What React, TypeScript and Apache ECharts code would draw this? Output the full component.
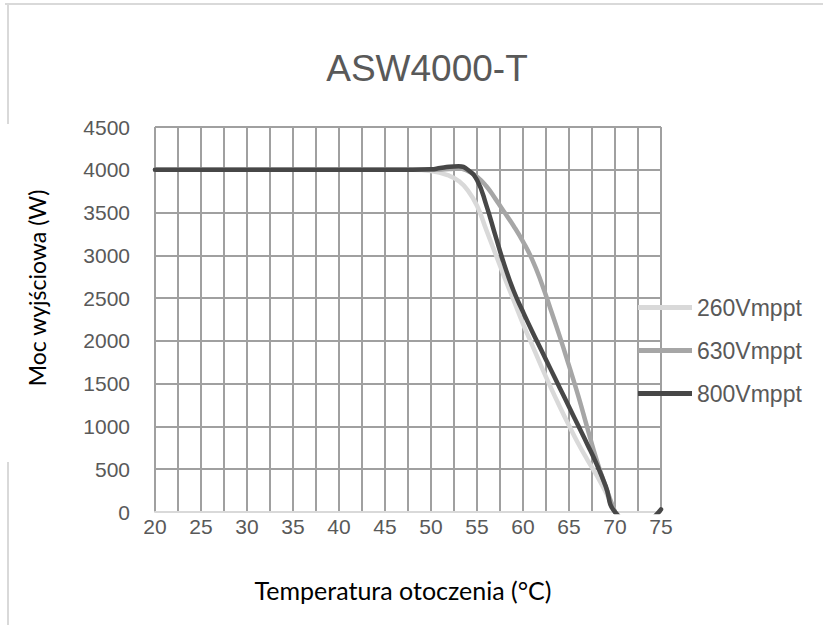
import React, { useEffect, useRef } from "react";
import * as echarts from "echarts";

const titleText = "ASW4000-T";
const xName = "Temperatura otoczenia (°C)";
const yName = "Moc wyjściowa (W)";
const seriesNames = ["260Vmppt", "630Vmppt", "800Vmppt"];
const seriesColors = ["#d9d9d9", "#a6a6a6", "#474747"];

const t260 = [20, 45, 48, 50, 52, 53, 54, 55, 56, 57, 58, 59, 60, 61, 62, 63, 64, 65, 66, 67, 68, 69, 70];
const p260 = [4000, 4000, 4000, 3985, 3930, 3870, 3760, 3580, 3300, 3020, 2740, 2470, 2200, 1950, 1700, 1460, 1230, 1010, 800, 610, 430, 230, 0];

const t630 = [20, 45, 50, 52, 53, 54, 55, 56, 57, 58, 59, 60, 61, 62, 63, 64, 65, 66, 67, 68, 69, 70];
const p630 = [4000, 4000, 4000, 4010, 4015, 3985, 3920, 3810, 3660, 3500, 3340, 3160, 2950, 2680, 2370, 2050, 1710, 1360, 980, 610, 290, 0];

const t800 = [20, 45, 48, 50, 51, 52, 53, 54, 55, 56, 57, 58, 59, 60, 61, 62, 63, 64, 65, 66, 67, 68, 69, 70, 72.5, 75];
const p800 = [4000, 4000, 4000, 4005, 4020, 4035, 4040, 4000, 3880, 3590, 3230, 2880, 2580, 2340, 2110, 1890, 1670, 1450, 1230, 1010, 790, 560, 300, 0, -150, 30];

const pairs = (t: number[], p: number[]) => t.map((v, i) => [v, p[i]]);

export default function App() {
  const ref = useRef<HTMLDivElement>(null);
  useEffect(() => {
    if (!ref.current) return;
    const chart = echarts.init(ref.current, undefined, { renderer: "svg" });
    const sans = "'Liberation Sans', Arial, sans-serif";
    const human = "Lato, 'Open Sans', sans-serif";
    const data = [pairs(t260, p260), pairs(t630, p630), pairs(t800, p800)];
    const gridLine = { color: "#a0a0a0", width: 2 };
    chart.setOption({
      animation: false,
      backgroundColor: "#ffffff",
      title: {
        text: titleText,
        left: 422,
        top: 45,
        textAlign: "center",
        textStyle: { fontFamily: sans, fontSize: 37, fontWeight: "normal", color: "#595959" },
      },
      grid: { left: 155, top: 127, right: 162, bottom: 113, containLabel: false },
      legend: {
        orient: "vertical",
        left: 638,
        top: 296,
        padding: 0,
        itemWidth: 54,
        itemHeight: 5,
        itemGap: 20,
        icon: "rect",
        data: seriesNames,
        textStyle: { fontFamily: sans, fontSize: 23, color: "#595959", lineHeight: 23 },
      },
      xAxis: {
        type: "value",
        min: 20,
        max: 75,
        interval: 5,
        axisLine: { show: true, lineStyle: { color: "#d9d9d9", width: 2 } },
        axisTick: { show: false },
        axisLabel: { fontFamily: sans, fontSize: 21, color: "#595959", margin: 4 },
        splitLine: { show: true, lineStyle: gridLine },
        minorTick: { show: false, splitNumber: 2 },
        minorSplitLine: { show: true, lineStyle: gridLine },
      },
      yAxis: {
        type: "value",
        min: 0,
        max: 4500,
        interval: 500,
        axisLine: { show: false },
        axisTick: { show: false },
        axisLabel: {
          fontFamily: sans,
          fontSize: 21,
          color: "#595959",
          margin: 25,
          formatter: (v: number) => String(v),
        },
        splitLine: { show: true, lineStyle: gridLine },
      },
      graphic: [
        { type: "line", shape: { x1: 5, y1: 4, x2: 823, y2: 4 }, style: { stroke: "#d9d9d9", lineWidth: 2 } },
        { type: "line", shape: { x1: 8, y1: 4, x2: 8, y2: 124 }, style: { stroke: "#d9d9d9", lineWidth: 2 } },
        { type: "line", shape: { x1: 8, y1: 462, x2: 8, y2: 625 }, style: { stroke: "#d9d9d9", lineWidth: 2 } },
        {
          type: "text",
          x: 403,
          y: 590,
          style: {
            text: xName,
            fontFamily: human,
            fontSize: 25,
            fill: "#000000",
            align: "center",
            verticalAlign: "middle",
          },
        },
        {
          type: "text",
          x: 37,
          y: 288,
          rotation: Math.PI / 2,
          style: {
            text: yName,
            fontFamily: human,
            fontSize: 23,
            fill: "#000000",
            align: "center",
            verticalAlign: "middle",
          },
        },
      ],
      series: seriesNames.map((name, i) => ({
        name,
        type: "line",
        data: data[i],
        smooth: 0.5,
        symbol: "none",
        clip: true,
        color: seriesColors[i],
        lineStyle: { color: seriesColors[i], width: 4.5, cap: "round", join: "round" },
        z: 2 + i,
      })),
    });
    return () => chart.dispose();
  }, []);
  return (
    <div
      ref={ref}
      style={{ position: "fixed", left: 0, top: 0, width: 823, height: 625, background: "#fff" }}
    />
  );
}
